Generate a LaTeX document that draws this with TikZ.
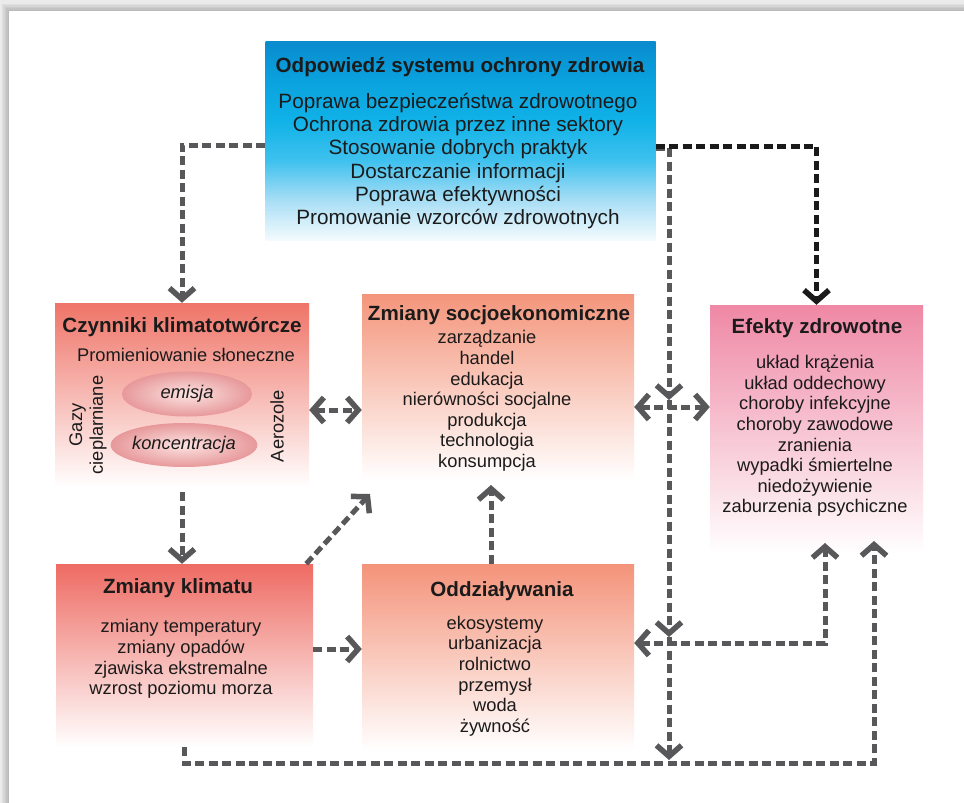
\documentclass[tikz,border=0pt]{standalone}
\usepackage{fontspec}
\setmainfont{Liberation Sans}
\usetikzlibrary{arrows.meta,shapes.geometric}
\definecolor{arrgray}{HTML}{58585A}
\definecolor{arrblack}{HTML}{1A1A1A}
\definecolor{txt}{HTML}{1B1B1B}
\definecolor{blueTop}{HTML}{0A8BCE}
\definecolor{blueA}{HTML}{0AA2DE}
\definecolor{blueB}{HTML}{10B2E8}
\definecolor{blueC}{HTML}{3EC1EE}
\definecolor{blueD}{HTML}{A8DEF5}
\definecolor{blueBot}{HTML}{F4FBFE}
\definecolor{czynTop}{HTML}{EF7468}
\definecolor{czynMid}{HTML}{F4A59C}
\definecolor{socTop}{HTML}{F4957B}
\definecolor{socMid}{HTML}{F8BBA6}
\definecolor{efTop}{HTML}{EF88A5}
\definecolor{efMid}{HTML}{F4AABE}
\definecolor{klTop}{HTML}{EE6B63}
\definecolor{klMid}{HTML}{F2A098}
\definecolor{odTop}{HTML}{F4937A}
\definecolor{odMid}{HTML}{F8B8A2}
\definecolor{ellIn}{HTML}{FCE4E2}
\definecolor{ellOut}{HTML}{E7989A}
\pgfdeclareverticalshading{blueshade}{100bp}{color(0bp)=(blueBot); color(25bp)=(blueBot); color(35bp)=(blueD); color(45bp)=(blueC); color(55bp)=(blueB); color(65bp)=(blueA); color(75bp)=(blueTop); color(100bp)=(blueTop)}
\tikzset{
  box/.style={rectangle, inner sep=0pt, draw=none},
  ttl/.style={text=txt, font=\fontsize{20.6}{23}\selectfont\bfseries, inner sep=0pt},
  bodyL/.style={text=txt, align=center, font=\fontsize{20.7}{23.2}\selectfont, inner sep=0pt},
  bodyS/.style={text=txt, align=center, font=\fontsize{18.3}{20.6}\selectfont, inner sep=0pt},
  ell/.style={ellipse, inner sep=0pt, inner color=ellIn, outer color=ellOut, text=txt, font=\fontsize{18.3}{20.6}\selectfont\itshape},
  conn/.style={draw=arrgray, line width=5pt, dash pattern=on 9pt off 4.5pt},
  connK/.style={draw=arrblack, line width=5pt, dash pattern=on 9pt off 4.5pt},
}
\begin{document}
\begin{tikzpicture}[x=1pt,y=-1pt,>={Straight Barb[length=11pt,width=25pt,line width=5.5pt]}]
\useasboundingbox (0,0) rectangle (964,803);
% frame
\fill[black!8] (0,0) rectangle (964,803);
\foreach \k in {0,...,5}{
  \fill[black, opacity=0.045] ({9-1.4*\k},{11-1.4*\k}) rectangle (964,803);
}
\fill[white] (9,11) rectangle (964,803);

% boxes
\node[box, minimum width=390pt, minimum height=199pt, shading=blueshade] (blue) at (460.5,140.5) {};
\node[box, minimum width=254pt, minimum height=184pt, top color=czynTop, middle color=czynMid, bottom color=white] (czyn) at (182,395) {};
\node[box, minimum width=272pt, minimum height=186pt, top color=socTop, middle color=socMid, bottom color=white] (socio) at (498,387) {};
\node[box, minimum width=213pt, minimum height=249pt, top color=efTop, middle color=efMid, bottom color=white] (efekty) at (816.5,429.5) {};
\node[box, minimum width=257pt, minimum height=183pt, top color=klTop, middle color=klMid, bottom color=white] (klimat) at (184.5,655.5) {};
\node[box, minimum width=272pt, minimum height=186pt, top color=odTop, middle color=odMid, bottom color=white] (oddz) at (498,657) {};

% texts: top
\node[ttl] (t0) at (460,67) {Odpowiedź systemu ochrony zdrowia};
\node[bodyL] (b0) at (458,161) {Poprawa bezpieczeństwa zdrowotnego\\Ochrona zdrowia przez inne sektory\\Stosowanie dobrych praktyk\\Dostarczanie informacji\\Poprawa efektywności\\Promowanie wzorców zdrowotnych};

% czynniki
\node[ttl] (t1) at (182,327) {Czynniki klimatotwórcze};
\node[bodyS] (b1) at (186,355) {Promieniowanie słoneczne};
\node[ell, minimum width=130pt, minimum height=45pt] (emi) at (187,394) {emisja};
\node[ell, minimum width=128pt, minimum height=44pt] (kon) at (184,445) {koncentracja};
\node[bodyS, rotate=90] (gazy) at (88,425) {Gazy\\cieplarniane};
\node[bodyS, rotate=90] (aero) at (277,426) {Aerozole};

% socio
\node[ttl] (t2) at (499,315) {Zmiany socjoekonomiczne};
\node[bodyS] (b2) at (487,401) {zarządzanie\\handel\\edukacja\\nierówności socjalne\\produkcja\\technologia\\konsumpcja};

% efekty
\node[ttl] (t3) at (817,328) {Efekty zdrowotne};
\node[bodyS] (b3) at (815,436) {układ krążenia\\układ oddechowy\\choroby infekcyjne\\choroby zawodowe\\zranienia\\wypadki śmiertelne\\niedożywienie\\zaburzenia psychiczne};

% klimat
\node[ttl] (t4) at (178,588) {Zmiany klimatu};
\node[bodyS] (b4) at (181,659) {zmiany temperatury\\zmiany opadów\\zjawiska ekstremalne\\wzrost poziomu morza};

% oddzialywania
\node[ttl] (t5) at (502,591) {Oddziaływania};
\node[bodyS] (b5) at (495,676) {ekosystemy\\urbanizacja\\rolnictwo\\przemysł\\woda\\żywność};

% helper coordinates
\coordinate (h145) at (0,145);
\coordinate (h146) at (0,146);
\coordinate (h148) at (0,148);
\coordinate (h407) at (0,407);
\coordinate (h410) at (0,410);
\coordinate (h643) at (0,643);
\coordinate (h649) at (0,649);
\coordinate (j1) at (669,400);
\coordinate (j2) at (669,637);
\coordinate (j3) at (669,760);
\coordinate (s1) at (491,485);
\coordinate (d1) at (370,494);
\coordinate (e1) at (825,543);
\coordinate (bl) at (184,763);
\coordinate (br) at (874,763);
\coordinate (e2) at (874,541);

% connectors
\draw[conn,->] (blue.west |- h145) -| (czyn.north);
\draw[conn,->] (blue.east |- h148) -| (j1);
\draw[connK,->] (blue.east |- h146) -| (efekty.north);
\draw[conn,->] (j1) -- (j2);
\draw[conn,->] (j2) -- (j3);
\draw[conn,<->] (socio.east |- h407) -- (efekty.west |- h407);
\draw[conn,<->] (czyn.east |- h410) -- (socio.west |- h410);
\draw[conn,->] ([yshift=-5pt]czyn.south) -- (czyn.south |- klimat.north);
\draw[conn,->] ([xshift=-7pt]klimat.north east) -- (d1);
\draw[conn,->] (oddz.north -| s1) -- (s1);
\draw[conn,->] (klimat.east |- h649) -- (oddz.west |- h649);
\draw[conn,<->] (oddz.east |- h643) -| (e1);
\draw[conn,->] (klimat.south -| bl) -- (bl) -- (br) -- (e2);
\end{tikzpicture}
\end{document}
